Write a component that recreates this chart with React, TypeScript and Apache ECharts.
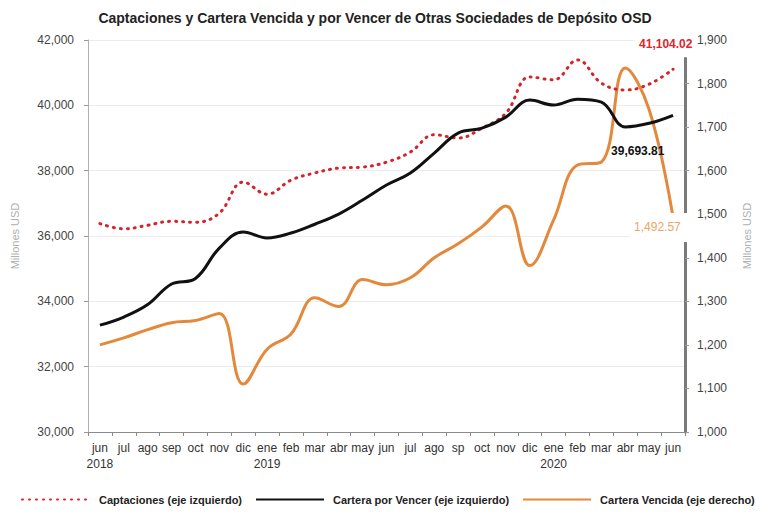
import React, { useEffect, useRef } from "react";
import * as echarts from "echarts";

const months = ["jun\n2018", "jul", "ago", "sep", "oct", "nov", "dic", "ene\n2019", "feb", "mar", "abr", "may", "jun", "jul", "ago", "sp", "oct", "nov", "dic", "ene\n2020", "feb", "mar", "abr", "may", "jun"];

const captaciones = [36380, 36220, 36330, 36450, 36420, 36700, 37650, 37280, 37710, 37930, 38080, 38110, 38260, 38570, 39100, 39000, 39300, 39760, 40870, 40780, 41390, 40680, 40470, 40650, 41104.02];

const carteraPorVencer = [33270, 33520, 33900, 34530, 34700, 35630, 36120, 35940, 36090, 36360, 36670, 37100, 37560, 37930, 38540, 39150, 39300, 39640, 40160, 40010, 40190, 40100, 39340, 39450, 39693.81];

const carteraVencida = [1200, 1216, 1235, 1251, 1256, 1272, 1110, 1190, 1225, 1308, 1288, 1350, 1338, 1354, 1400, 1432, 1471, 1519, 1382, 1487, 1613, 1620, 1836, 1740, 1492.57];

const leftTicks = { min: 30000, max: 42000, interval: 2000 };
const rightTicks = { min: 1000, max: 1900, interval: 100 };

const FONT = "'Liberation Sans', Arial, sans-serif";

const fmt = (v: number) => v.toLocaleString("en-US");
const fmt2 = (v: number) => v.toLocaleString("en-US", { minimumFractionDigits: 2, maximumFractionDigits: 2 });

export default function App() {
  const ref = useRef<HTMLDivElement>(null);
  useEffect(() => {
    if (!ref.current) return;
    const chart = echarts.init(ref.current, undefined, { renderer: "svg" });
    chart.setOption({
      animation: false,
      backgroundColor: "#ffffff",
      textStyle: { fontFamily: FONT },
      title: {
        text: "Captaciones y Cartera Vencida y por Vencer de Otras Sociedades de Depósito OSD",
        left: 370,
        textAlign: "center",
        top: 6,
        textStyle: { fontFamily: FONT, fontSize: 14, fontWeight: "bold", color: "#222" },
      },
      legend: {
        bottom: 6,
        left: 16,
        itemWidth: 68,
        itemHeight: 10,
        itemGap: 13,
        itemStyle: { opacity: 0 },
        textStyle: { fontFamily: FONT, fontSize: 11, fontWeight: "bold", color: "#222", padding: [0, 0, 0, 4] },
        data: [
          "Captaciones (eje izquierdo)",
          "Cartera por Vencer (eje izquierdo)",
          "Cartera Vencida (eje derecho)",
        ],
      },
      grid: { left: 88, right: 72, top: 40, bottom: 84 },
      xAxis: {
        type: "category",
        data: months,
        boundaryGap: true,
        axisLine: { lineStyle: { color: "#8a8a8a", width: 1 } },
        axisTick: { show: true, length: 4, lineStyle: { color: "#8a8a8a" } },
        axisLabel: { interval: 0, color: "#333", fontFamily: FONT, fontSize: 12, lineHeight: 16, margin: 8 },
      },
      yAxis: [
        {
          type: "value",
          ...leftTicks,
          position: "left",
          name: "Millones USD",
          nameLocation: "middle",
          nameGap: 68,
          nameRotate: 90,
          nameTextStyle: { color: "#b0b0b0", fontFamily: FONT, fontSize: 11 },
          axisLine: { show: true, lineStyle: { color: "#b0b0b0", width: 1 } },
          axisTick: { show: true, length: 4, lineStyle: { color: "#9a9a9a" } },
          axisLabel: { color: "#444", fontFamily: FONT, fontSize: 12, margin: 14, formatter: (v: number) => fmt(v) },
          splitLine: { show: true, lineStyle: { color: "#ececec", width: 1 } },
        },
        {
          type: "value",
          ...rightTicks,
          position: "right",
          name: "Millones USD",
          nameLocation: "middle",
          nameGap: 56,
          nameRotate: 90,
          nameTextStyle: { color: "#b0b0b0", fontFamily: FONT, fontSize: 11 },
          axisLine: { show: true, lineStyle: { color: "#7a7a7a", width: 3 } },
          axisTick: { show: true, length: 4, lineStyle: { color: "#9a9a9a" } },
          axisLabel: { color: "#444", fontFamily: FONT, fontSize: 12, margin: 12, formatter: (v: number) => fmt(v) },
          splitLine: { show: false },
        },
      ],
      series: [
        {
          name: "Captaciones (eje izquierdo)",
          type: "line",
          yAxisIndex: 0,
          smooth: 0.4,
          symbol: "none",
          lineStyle: { color: "#d3242b", width: 3, type: [1, 6], cap: "round" },
          itemStyle: { color: "#d3242b" },
          endLabel: {
            show: true,
            offset: [-46, -25],
            formatter: () => fmt2(captaciones[captaciones.length - 1]),
            color: "#e0262c",
            fontFamily: FONT,
            fontSize: 12,
            fontWeight: "bold",
            backgroundColor: "#ffffff",
            padding: [8, 3, 6, 4],
          },
          data: captaciones,
          z: 3,
        },
        {
          name: "Cartera por Vencer (eje izquierdo)",
          type: "line",
          yAxisIndex: 0,
          smooth: 0.4,
          symbol: "none",
          lineStyle: { color: "#111111", width: 3 },
          itemStyle: { color: "#111111" },
          endLabel: {
            show: true,
            offset: [-70, 36],
            formatter: () => fmt2(carteraPorVencer[carteraPorVencer.length - 1]),
            color: "#111",
            fontFamily: FONT,
            fontSize: 12,
            fontWeight: "bold",
          },
          data: carteraPorVencer,
          z: 4,
        },
        {
          name: "Cartera Vencida (eje derecho)",
          type: "line",
          yAxisIndex: 1,
          smooth: 0.4,
          symbol: "none",
          lineStyle: { color: "#e4893c", width: 3 },
          itemStyle: { color: "#e4893c" },
          endLabel: {
            show: true,
            offset: [-51, 10],
            formatter: () => fmt2(carteraVencida[carteraVencida.length - 1]),
            color: "#eba56a",
            fontFamily: FONT,
            fontSize: 12,
            backgroundColor: "#ffffff",
            padding: [10, 13, 7, 4],
          },
          data: carteraVencida,
          z: 2,
        },
      ],
    });
    return () => chart.dispose();
  }, []);
  return <div ref={ref} style={{ position: "fixed", left: 0, top: 0, width: 760, height: 516 }} />;
}
